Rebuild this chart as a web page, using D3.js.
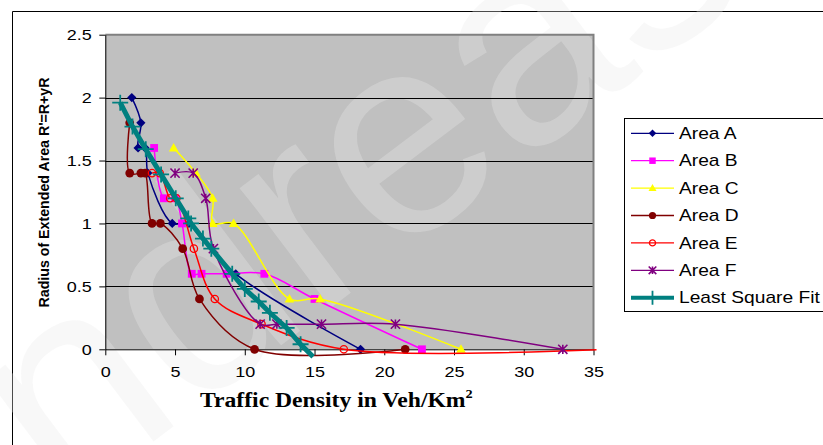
<!DOCTYPE html>
<html>
<head>
<meta charset="utf-8">
<script src="https://cdnjs.cloudflare.com/ajax/libs/d3/7.8.5/d3.min.js"></script>
<style>
  body { margin: 0; background: #fff; }
  svg { display: block; }
</style>
</head>
<body>
<script>
// data: [density, radius]
var areaA = [[1.9,2.0],[2.55,1.8],[2.35,1.6],[2.85,1.6],[3.05,1.4],[4.8,1.0],[6.0,1.0],[9.35,0.6],[18.3,0]];
var areaB = [[3.5,1.6],[4.2,1.2],[5.0,1.2],[5.5,1.0],[6.2,0.6],[6.9,0.6],[8.7,0.6],[11.4,0.6],[15.0,0.4],[22.7,0]];
var areaC = [[4.9,1.6],[6.5,1.4],[7.7,1.2],[7.7,1.0],[9.2,1.0],[13.2,0.4],[15.4,0.4],[25.5,0]];
var areaD = [[1.75,1.8],[1.75,1.4],[2.55,1.4],[2.85,1.4],[3.35,1.0],[3.95,1.0],[5.55,0.8],[6.75,0.4],[10.7,0],[21.5,0]];
var areaE = [[3.35,1.4],[3.9,1.4],[4.65,1.2],[5.1,1.2],[6.35,0.8],[7.85,0.4],[11.2,0.2],[17.1,0],[36,0]];
var areaF = [[5.0,1.4],[6.3,1.4],[7.2,1.2],[7.75,0.8],[11.1,0.2],[12.3,0.2],[15.5,0.2],[20.8,0.2],[32.8,0]];
var leastSq = [[1.07,1.96],[1.95,1.77],[2.9,1.59],[4.0,1.39],[5.05,1.2],[5.95,1.04],[6.15,1.0],[7.0,0.88],[7.6,0.8],[9.1,0.6],[10.0,0.48],[11.0,0.38],[11.8,0.29],[13.0,0.17],[14.0,0.04],[14.9,-0.06]];

var seriesNames = ["Area A","Area B","Area C","Area D","Area E","Area F","Least Square Fit"];
var xTicks = [0,5,10,15,20,25,30,35];
var yTicks = [0,0.5,1,1.5,2,2.5];

var W = 823, H = 445;
var SX = 1.2; // text in the picture is stretched sideways

var series = [
  {name: seriesNames[0], data: areaA, color: "#000080", marker: "diamond", width: 1.5},
  {name: seriesNames[1], data: areaB, color: "#FF00FF", marker: "square", width: 1.5},
  {name: seriesNames[2], data: areaC, color: "#FFFF00", marker: "triangle", width: 1.5},
  {name: seriesNames[3], data: areaD, color: "#800000", marker: "circle", width: 1.5},
  {name: seriesNames[4], data: areaE, color: "#FF0000", marker: "open", width: 1.5},
  {name: seriesNames[5], data: areaF, color: "#800080", marker: "star", width: 1.5},
  {name: seriesNames[6], data: leastSq, color: "#008080", marker: "plus", width: 5}
];

var x = d3.scaleLinear().domain([0,35]).range([105.3,593.5]);
var y = d3.scaleLinear().domain([0,2.5]).range([349.3,34.7]);

var svg = d3.select("body").append("svg")
  .attr("width", W)
  .attr("height", H)
  .style("font-family", "'Liberation Sans', Arial, sans-serif");

svg.append("rect").attr("width", W).attr("height", H).attr("fill", "#fff");

// chart frame (only top and left edge are in the picture)
svg.append("path")
  .attr("d", "M12.5," + H + "V11.5H" + W)
  .attr("fill", "none").attr("stroke", "#000").attr("stroke-width", 1);

// plot area
svg.append("rect")
  .attr("x", x(0)).attr("y", y(2.5))
  .attr("width", x(35) - x(0)).attr("height", y(0) - y(2.5))
  .attr("fill", "#C0C0C0");

// faint watermark, kept inside the frame
svg.append("clipPath").attr("id", "wmclip")
  .append("rect").attr("x", 0).attr("y", 0).attr("width", W).attr("height", H);
svg.append("g").attr("clip-path", "url(#wmclip)")
  .append("text")
  .attr("transform", "translate(-90,625) rotate(-37)")
  .attr("font-size", 285)
  .attr("fill", "#e8e8e8")
  .attr("fill-opacity", 0.32)
  .attr("aria-hidden", "true")
  .text("Andreas");

svg.append("g")
  .selectAll("line")
  .data(yTicks.filter(function(d) { return d > 0 && d < 2.5; }))
  .enter().append("line")
  .attr("x1", x(0)).attr("x2", x(35))
  .attr("y1", function(d) { return Math.round(y(d)) + 0.5; })
  .attr("y2", function(d) { return Math.round(y(d)) + 0.5; })
  .attr("stroke", "#000").attr("stroke-width", 1);

svg.append("path")
  .attr("d", "M" + x(0) + "," + y(2.5) + "H" + x(35) + "V" + y(0))
  .attr("fill", "none").attr("stroke", "#808080").attr("stroke-width", 2);

// axes
var yAxis = svg.append("g")
  .attr("transform", "translate(" + x(0) + ",0)")
  .call(d3.axisLeft(y).tickValues(yTicks).tickSize(6).tickSizeOuter(0).tickFormat(function(d) { return String(d); }));
var xAxis = svg.append("g")
  .attr("transform", "translate(0," + y(0) + ")")
  .call(d3.axisBottom(x).tickValues(xTicks).tickSize(6).tickSizeOuter(0).tickPadding(11).tickFormat(function(d) { return String(d); }));

[yAxis, xAxis].forEach(function(ax) {
  ax.select(".domain").attr("stroke", "#000");
  ax.selectAll(".tick line").attr("stroke", "#000");
  ax.selectAll("text")
    .attr("font-family", "'Liberation Sans', Arial, sans-serif")
    .attr("font-size", 15)
    .attr("fill", "#000");
});
yAxis.selectAll("text").attr("x", -13.5 / SX).attr("transform", "scale(" + SX + ",1)");
xAxis.selectAll("text").attr("transform", "scale(" + SX + ",1)");

// axis titles
svg.append("text")
  .attr("transform", "translate(48.5,192.5) rotate(-90)")
  .attr("text-anchor", "middle")
  .attr("font-size", 14.2)
  .attr("font-weight", "bold")
  .text("Radius of Extended Area R'=R+yR");

var xTitle = svg.append("text")
  .attr("transform", "translate(200,406.5) scale(1.1,1)")
  .attr("font-family", "'Liberation Serif', 'Times New Roman', serif")
  .attr("font-size", 21.5)
  .attr("font-weight", "bold");
xTitle.append("tspan").text("Traffic Density in Veh/Km");
xTitle.append("tspan").attr("font-size", 13).attr("dy", -9).text("2");

// markers
function drawMarker(g, type, color, size) {
  var s = size;
  if (type === "diamond") {
    g.append("path").attr("d", "M0," + (-s) + "L" + s + ",0L0," + s + "L" + (-s) + ",0Z").attr("fill", color);
  } else if (type === "square") {
    g.append("rect").attr("x", -s * 0.85).attr("y", -s * 0.85).attr("width", s * 1.7).attr("height", s * 1.7).attr("fill", color);
  } else if (type === "triangle") {
    g.append("path").attr("d", "M0," + (-s * 1.1) + "L" + (s * 1.05) + "," + (s * 0.75) + "L" + (-s * 1.05) + "," + (s * 0.75) + "Z").attr("fill", color);
  } else if (type === "circle") {
    g.append("circle").attr("r", s * 0.95).attr("fill", color);
  } else if (type === "open") {
    g.append("circle").attr("r", s * 0.8).attr("fill", "none").attr("stroke", color).attr("stroke-width", 1.3);
  } else if (type === "star") {
    g.append("path")
      .attr("d", "M" + (-s) + "," + (-s) + "L" + s + "," + s + "M" + (-s) + "," + s + "L" + s + "," + (-s) + "M0," + (-s) + "V" + s)
      .attr("stroke", color).attr("stroke-width", 1.6);
  } else if (type === "plus") {
    g.append("path")
      .attr("d", "M" + (-s) + ",0H" + s + "M0," + (-s) + "V" + s)
      .attr("stroke", color).attr("stroke-width", 1.8);
  }
}

var smooth = d3.line()
  .x(function(d) { return x(d[0]); })
  .y(function(d) { return y(d[1]); })
  .curve(d3.curveCatmullRom.alpha(0.5));
var straight = d3.line()
  .x(function(d) { return x(d[0]); })
  .y(function(d) { return y(d[1]); });

svg.append("clipPath").attr("id", "plotclip")
  .append("rect")
  .attr("x", x(0)).attr("y", 0)
  .attr("width", x(35) - x(0) + 3).attr("height", y(0) + 12);

series.forEach(function(s) {
  var g = svg.append("g").attr("clip-path", "url(#plotclip)");
  g.append("path")
    .datum(s.data)
    .attr("d", s.marker === "plus" ? straight(s.data) : smooth(s.data))
    .attr("fill", "none")
    .attr("stroke", s.color)
    .attr("stroke-width", s.width);
  g.selectAll(".pt")
    .data(s.data.filter(function(d) { return d[0] <= 35 && d[1] >= 0; }))
    .enter().append("g")
    .attr("transform", function(d) { return "translate(" + x(d[0]) + "," + y(d[1]) + ")"; })
    .each(function() { drawMarker(d3.select(this), s.marker, s.color, s.marker === "plus" ? 8 : 4.6); });
});

// legend
var legend = svg.append("g");
legend.append("rect")
  .attr("x", 624.5).attr("y", 118.5)
  .attr("width", 210).attr("height", 193)
  .attr("fill", "#fff").attr("stroke", "#000").attr("stroke-width", 1);

var item = legend.selectAll(".item")
  .data(series)
  .enter().append("g")
  .attr("transform", function(d, i) { return "translate(0," + (133.3 + i * 27.4) + ")"; });
item.append("line")
  .attr("x1", 631).attr("x2", 674)
  .attr("stroke", function(d) { return d.color; })
  .attr("stroke-width", function(d) { return d.marker === "plus" ? 4 : 1.3; });
item.each(function(d) {
  var g = d3.select(this).append("g").attr("transform", "translate(652.5,0)");
  drawMarker(g, d.marker, d.color, d.marker === "plus" ? 7 : 3.8);
});
item.append("text")
  .attr("transform", "translate(679,5.7) scale(" + SX + ",1)")
  .attr("font-size", 16)
  .text(function(d) { return d.name; });
</script>
</body>
</html>
